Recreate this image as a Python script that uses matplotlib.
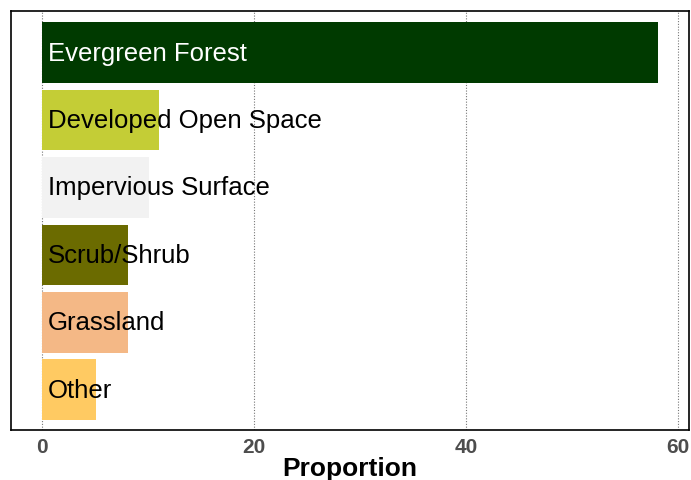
import numpy as np
import matplotlib.pyplot as plt

categories = ["Evergreen Forest", "Developed Open Space", "Impervious Surface",
              "Scrub/Shrub", "Grassland", "Other"]
proportion = [58.1, 11.0, 10.1, 8.1, 8.1, 5.1]
colors = ["#003a00", "#c4cd36", "#f2f2f2", "#6b6b00", "#f4b886", "#ffca62"]
text_colors = ["white", "black", "black", "black", "black", "black"]

plt.rcParams['font.family'] = ['Liberation Sans', 'DejaVu Sans']

fig = plt.figure(figsize=(6.91, 4.81), dpi=100)
ax = fig.add_axes([0.016, 0.104, 0.981, 0.871])

y = np.arange(len(categories))
ax.barh(y, proportion, height=0.9, color=colors, zorder=2)
for i, cat in enumerate(categories):
    ax.text(0.6, y[i], cat, va='center', ha='left', fontsize=18.5,
            color=text_colors[i], zorder=3)

ax.set_ylim(5.6, -0.62)
ax.set_xlim(-2.9, 61.0)
ax.set_xticks([0, 20, 40, 60])
ax.set_yticks([])
ax.grid(axis='x', linestyle=(0, (1, 1.5)), color='#777777', linewidth=0.8, zorder=0)
ax.tick_params(axis='x', length=0, pad=5, labelsize=15, labelcolor='#4d4d4d')
for lab in ax.get_xticklabels():
    lab.set_fontweight('bold')
for s in ax.spines.values():
    s.set_linewidth(1.2)
ax.set_xlabel("Proportion", fontsize=19, fontweight='bold', labelpad=0)

fig.savefig("out.png", dpi=100)
